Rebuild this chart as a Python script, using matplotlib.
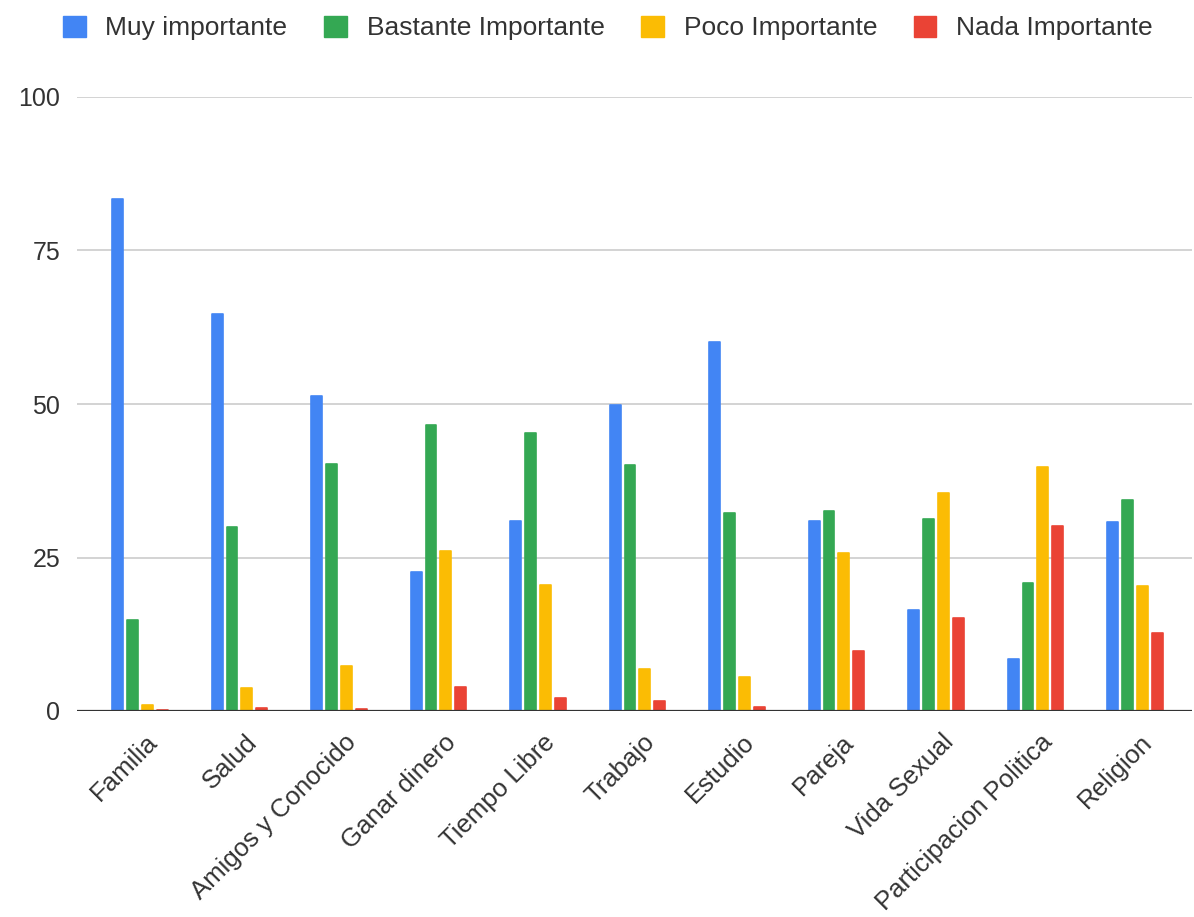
import matplotlib
matplotlib.use("Agg")
import matplotlib.pyplot as plt
import matplotlib.transforms as mtransforms
from matplotlib.patches import Rectangle
import numpy as np

plt.rcParams['font.family'] = ['Liberation Sans', 'DejaVu Sans']

categories = ["Familia", "Salud", "Amigos y Conocido", "Ganar dinero", "Tiempo Libre",
              "Trabajo", "Estudio", "Pareja", "Vida Sexual", "Participacion Politica", "Religion"]
series_names = ["Muy importante", "Bastante Importante", "Poco Importante", "Nada Importante"]
muy = [83.4, 64.7, 51.3, 22.6, 30.9, 49.8, 60.1, 30.9, 16.5, 8.4, 30.8]
bastante = [14.8, 30.0, 40.2, 46.5, 45.3, 40.0, 32.3, 32.6, 31.3, 20.9, 34.4]
poco = [0.9, 3.7, 7.3, 26.0, 20.5, 6.9, 5.6, 25.7, 35.5, 39.7, 20.4]
nada = [0.2, 0.5, 0.4, 3.9, 2.1, 1.7, 0.6, 9.7, 15.1, 30.1, 12.7]
yticks = [0, 25, 50, 75, 100]

colors = ["#4285F4", "#34A853", "#FBBC04", "#EA4335"]
values = [muy, bastante, poco, nada]

W, H = 1194, 917
fig = plt.figure(figsize=(W / 100, H / 100), dpi=100)
ax = fig.add_axes([77 / W, 1 - 711 / H, (1192 - 77) / W, (711 - 97) / H])

x = np.arange(len(categories))
offsets = [-0.225, -0.075, 0.075, 0.225]
for vals, off, c, name in zip(values, offsets, colors, series_names):
    ax.bar(x + off, vals, width=0.11, color=c, edgecolor=c, linewidth=1.2,
           joinstyle='round', label=name, zorder=3)

ax.set_xlim(-0.633, 10.573)
ax.set_ylim(0, 100)
ax.set_yticks(yticks)
ax.set_yticklabels([str(v) for v in yticks])
ax.grid(axis='y', color='#cccccc', linewidth=1.2, zorder=0)
ax.axhline(0, color='#333333', linewidth=1.6, zorder=4)
for s in ax.spines.values():
    s.set_visible(False)
ax.tick_params(axis='both', length=0, colors='#333333')
ax.tick_params(axis='y', pad=12, labelsize=18)
ax.tick_params(axis='x', labelsize=18.5)
ax.set_xticks(x)
ax.set_xticklabels(categories, rotation=45, ha='right', va='top', rotation_mode='anchor')
offset = mtransforms.ScaledTranslation(5 / 100, -14 / 100, fig.dpi_scale_trans)
for lbl in ax.get_xticklabels():
    lbl.set_transform(lbl.get_transform() + offset)

handles = [Rectangle((0, 0), 1, 1, facecolor=c, edgecolor=c) for c in colors]
fig.legend(handles, series_names, loc='center', bbox_to_anchor=(608 / W, 1 - 28 / H),
           ncol=4, frameon=False, fontsize=19, handlelength=0.85, handleheight=0.85,
           handletextpad=0.75, columnspacing=1.4, labelcolor='#333333')

fig.savefig("out.png", dpi=100, facecolor='white')
